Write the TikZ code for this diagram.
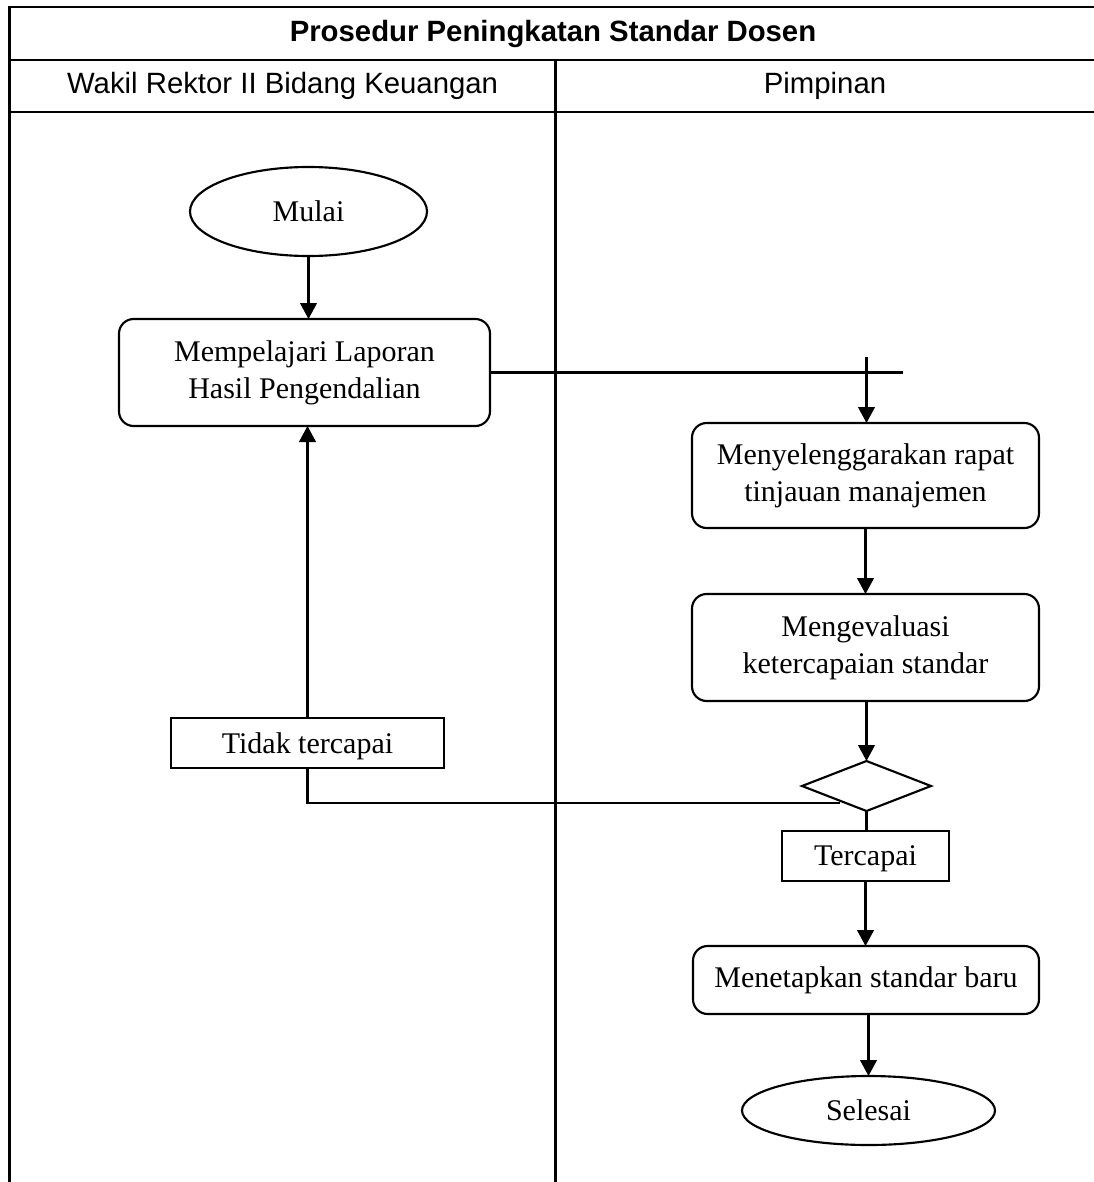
\documentclass[tikz,border=0pt]{standalone}
\usepackage{fontspec}
\setmainfont{Liberation Serif}
\newfontfamily\hdrfont{Liberation Sans}
\usetikzlibrary{shapes.geometric,arrows.meta}
\newcommand\txtfont{\fontsize{22.5pt}{27.5pt}\selectfont}
\newcommand\hfont{\hdrfont\fontsize{22pt}{26pt}\selectfont}
\begin{document}
\begin{tikzpicture}[x=0.75pt,y=-0.75pt,
  tbl/.style={line width=2.2pt},
  fl/.style={line width=1.6pt},
  arr/.style={fl,-{Triangle[length=12pt,width=12.5pt]}},
  base/.style={draw,fl,inner sep=0pt,outer sep=0pt,align=center,font=\txtfont},
  proc/.style={base,rectangle,rounded corners=11pt},
  lbl/.style={base,rectangle,text depth=0pt},
  term/.style={base,ellipse},
  dec/.style={base,diamond},
  hdr/.style={inner sep=0pt,font=\hfont}
]
\useasboundingbox (0,0) rectangle (1094,1182);
% table
\draw[tbl] (9.5,1190) -- (9.5,7) -- (1100,7);
\draw[tbl] (9.5,60) -- (1100,60);
\draw[tbl] (9.5,112) -- (1100,112);
\draw[tbl] (555.7,60) -- (555.7,1190);
\node[hdr,font=\hfont\bfseries] (title) at (553,34) {Prosedur Peningkatan Standar Dosen};
\node[hdr] (lane1) at (282.6,86) {Wakil Rektor II Bidang Keuangan};
\node[hdr] (lane2) at (825,86) {Pimpinan};
% flow nodes
\node[term,minimum width=177.75pt,minimum height=66.75pt] (mulai) at (308.5,211.5) {Mulai};
\node[proc,minimum width=278.25pt,minimum height=80.25pt] (pelajari) at (304.5,372.5) {Mempelajari Laporan\\Hasil Pengendalian};
\node[proc,minimum width=260.25pt,minimum height=78.75pt] (rapat) at (865.5,475.5) {Menyelenggarakan rapat\\tinjauan manajemen};
\node[proc,minimum width=260.25pt,minimum height=80.25pt] (evaluasi) at (865.5,647.5) {Mengevaluasi\\ketercapaian standar};
\node[dec,minimum width=96.75pt,minimum height=37.5pt] (cek) at (866.5,786) {};
\node[lbl,minimum width=125.25pt,minimum height=37.5pt] (ya) at (865.5,856) {Tercapai};
\node[proc,minimum width=259.5pt,minimum height=51pt] (tetap) at (866,980) {Menetapkan standar baru};
\node[term,minimum width=189.75pt,minimum height=51.75pt] (selesai) at (868.5,1110.5) {Selesai};
\node[lbl,minimum width=204.75pt,minimum height=37.5pt] (tidak) at (307.5,743) {Tidak tercapai};
% helper coordinates
\coordinate (lineEnd) at (903,372.5);
\coordinate (arrStart) at (866.5,357);
\coordinate (loopCorner) at (307.5,803);
\coordinate (loopEnd) at (840,803);
% connectors
\draw[arr] (mulai.south) -- (mulai.south |- pelajari.north);
\draw[fl] (pelajari.east) -- (lineEnd);
\draw[arr] (arrStart) -- (arrStart |- rapat.north);
\draw[arr] (rapat.south) -- (evaluasi.north);
\draw[arr] (evaluasi.south -| cek.north) -- (cek.north);
\draw[fl] (cek.south) -- (cek.south |- ya.north);
\draw[arr] (ya.south) -- (ya.south |- tetap.north);
\draw[arr] (tetap.south -| selesai.north) -- (selesai.north);
\draw[arr] (tidak.north) -- (tidak.north |- pelajari.south);
\draw[fl] (tidak.south) -- (loopCorner) -- (loopEnd);
\end{tikzpicture}
\end{document}
